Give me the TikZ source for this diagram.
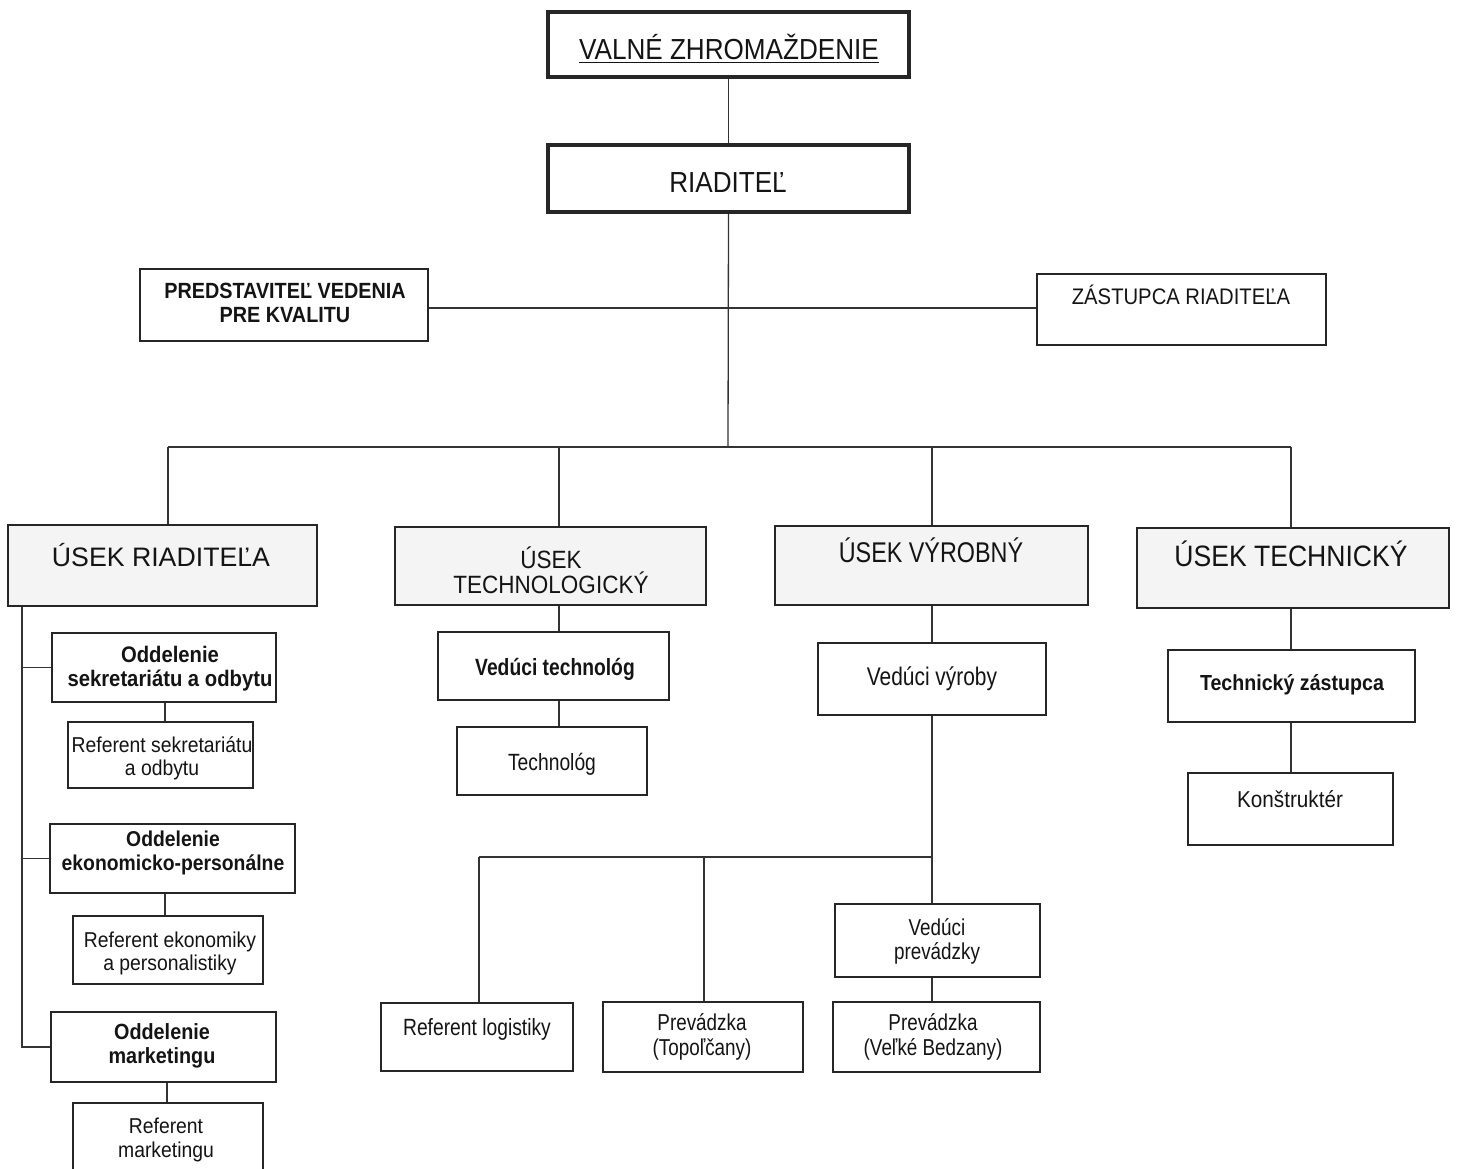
\documentclass[tikz,border=0pt]{standalone}
\usepackage{fontspec}
\setmainfont{Liberation Sans}
\newfontfamily\fN{Liberation Sans}
\newfontfamily\fM[FakeStretch=0.9]{Liberation Sans}
\newfontfamily\fC[FakeStretch=0.82]{Liberation Sans}
\usetikzlibrary{fit}
\newcommand{\myfs}[2]{\fontsize{#1}{#2}\selectfont}
\newcommand{\myul}[1]{{\setbox0\hbox{#1}\rlap{\rule[-3.5pt]{\wd0}{1.8pt}}\box0}}
\tikzset{
  box/.style={draw=black!85, line width=1.7pt, fill=white, inner sep=0pt},
  heavy/.style={box, line width=3.6pt},
  sect/.style={box, fill=gray!9, line width=1.9pt},
  conn/.style={draw=black!80, line width=1.3pt},
  txt/.style={inner sep=0pt, text=black!92, align=center}
}
\begin{document}
\begin{tikzpicture}[x=1pt, y=-1pt]
\useasboundingbox (0,0) rectangle (1457,1169);
\fill[white] (0,0) rectangle (1457,1169);
\clip (0,0) rectangle (1457,1169);

% boxes
\node[heavy, fit={(548,12) (909,77)}] (vz) {};
\node[heavy, fit={(548,145) (909,212)}] (ria) {};
\node[box, fit={(140,269) (428,341)}] (pvk) {};
\node[box, fit={(1037,274) (1326,345)}] (zr) {};
\node[sect, fit={(8,525) (317,606)}] (usr) {};
\node[sect, fit={(395,527) (706,605)}] (ut) {};
\node[sect, fit={(775,526) (1088,605)}] (uv) {};
\node[sect, fit={(1137,528) (1449,608)}] (uk) {};
\node[box, fit={(52,633) (276,702)}] (os) {};
\node[box, fit={(68,722) (253,788)}] (rs) {};
\node[box, fit={(50,824) (295,893)}] (oe) {};
\node[box, fit={(73,916) (263,984)}] (re) {};
\node[box, fit={(51,1012) (276,1082)}] (om) {};
\node[box, fit={(73,1103) (263,1190)}] (rm) {};
\node[box, fit={(438,632) (669,700)}] (vt) {};
\node[box, fit={(457,727) (647,795)}] (tg) {};
\node[box, fit={(818,643) (1046,715)}] (vv) {};
\node[box, fit={(835,904) (1040,977)}] (vp) {};
\node[box, fit={(381,1003) (573,1071)}] (rl) {};
\node[box, fit={(603,1002) (803,1072)}] (pt) {};
\node[box, fit={(833,1002) (1040,1072)}] (pb) {};
\node[box, fit={(1168,650) (1415,722)}] (tz) {};
\node[box, fit={(1188,773) (1393,845)}] (ko) {};

% connector coordinates
\coordinate (hub) at (728,447);
\coordinate (hl) at (728,308);
\coordinate (b1) at (168,447);
\coordinate (b2) at (559,447);
\coordinate (b3) at (932,447);
\coordinate (b4) at (1291,447);
\coordinate (bus2) at (932,857);
\coordinate (c1) at (479,857);
\coordinate (c2) at (704,857);
\coordinate (lv) at (22,606);
\coordinate (l1) at (165,700);

% connectors
\draw[conn] (vz.south) -- (ria.north);
\draw[conn] (ria.south) -- (hub);
\draw[conn] (pvk.east |- hl) -- (zr.west |- hl);
\draw[conn] (b1) -- (b4);
\draw[conn] (b1) -- (b1 |- usr.north);
\draw[conn] (b2) -- (b2 |- ut.north);
\draw[conn] (b3) -- (b3 |- uv.north);
\draw[conn] (b4) -- (b4 |- uk.north);
% usek riaditela
\draw[conn] (lv |- usr.south) -- (lv |- om.west) -- (om.west);
\draw[conn] (lv |- os.west) -- (os.west);
\draw[conn] (lv |- oe.west) -- (oe.west);
\draw[conn] (l1 |- os.south) -- (l1 |- rs.north);
\draw[conn] (l1 |- oe.south) -- (l1 |- re.north);
\draw[conn] (rm.north -| 167,0) -- (om.south -| 167,0);
% technologicky
\draw[conn] (b2 |- ut.south) -- (b2 |- vt.north);
\draw[conn] (b2 |- vt.south) -- (b2 |- tg.north);
% vyrobny
\draw[conn] (b3 |- uv.south) -- (b3 |- vv.north);
\draw[conn] (b3 |- vv.south) -- (bus2);
\draw[conn] (c1) -- (bus2);
\draw[conn] (c1) -- (c1 |- rl.north);
\draw[conn] (c2) -- (c2 |- pt.north);
\draw[conn] (bus2) -- (bus2 |- vp.north);
\draw[conn] (bus2 |- vp.south) -- (bus2 |- pb.north);
% technicky
\draw[conn] (b4 |- uk.south) -- (b4 |- tz.north);
\draw[conn] (b4 |- tz.south) -- (b4 |- ko.north);

% texts
\node[txt, anchor=base, font=\fM\myfs{29}{31}] (vzT) at (729,60) {\myul{VALNÉ ZHROMAŽDENIE}};
\node[txt, anchor=base, font=\fM\myfs{29}{31}] (riaT) at (728,193) {RIADITEĽ};
\node[txt, font=\fM\bfseries\myfs{22}{24}] (pvkT) at (285,303) {PREDSTAVITEĽ VEDENIA\\PRE KVALITU};
\node[txt, anchor=base, font=\fM\myfs{22.5}{24}] (zrT) at (1181,305) {ZÁSTUPCA RIADITEĽA};
\node[txt, anchor=base, font=\fN\myfs{26.7}{28}] (usrT) at (161,566) {ÚSEK RIADITEĽA};
\node[txt, font=\fM\myfs{25}{25}] (utT) at (551,570) {ÚSEK\\TECHNOLOGICKÝ};
\node[txt, anchor=base, font=\fC\myfs{28.5}{30}] (uvT) at (931,562) {ÚSEK VÝROBNÝ};
\node[txt, anchor=base, font=\fM\myfs{29.5}{31}] (ukT) at (1291,566) {ÚSEK TECHNICKÝ};
\node[txt, font=\fM\bfseries\myfs{22.5}{24}] (osT) at (170,669) {Oddelenie\\sekretariátu a odbytu};
\node[txt, font=\fM\myfs{21.5}{23}] (rsT) at (162,758) {Referent sekretariátu\\a odbytu};
\node[txt, font=\fM\bfseries\myfs{21.5}{23.5}] (oeT) at (173,853) {Oddelenie\\ekonomicko-personálne};
\node[txt, font=\fM\myfs{21.5}{23}] (reT) at (170,953) {Referent ekonomiky\\a personalistiky};
\node[txt, font=\fM\bfseries\myfs{22}{24}] (omT) at (162,1046) {Oddelenie\\marketingu};
\node[txt, font=\fM\myfs{21.5}{24}] (rmT) at (166,1140) {Referent\\marketingu};
\node[txt, anchor=base, font=\fC\bfseries\myfs{23.5}{25}] (vtT) at (555,675) {Vedúci technológ};
\node[txt, anchor=base, font=\fC\myfs{23.5}{25}] (tgT) at (552,770) {Technológ};
\node[txt, anchor=base, font=\fC\myfs{25.5}{27}] (vvT) at (932,685) {Vedúci výroby};
\node[txt, font=\fC\myfs{23}{24}] (vpT) at (937,941) {Vedúci\\prevádzky};
\node[txt, anchor=base, font=\fC\myfs{23.5}{25}] (rlT) at (477,1035) {Referent logistiky};
\node[txt, font=\fC\myfs{23}{24.5}] (ptT) at (702,1037) {Prevádzka\\(Topoľčany)};
\node[txt, font=\fC\myfs{23}{24.5}] (pbT) at (933,1037) {Prevádzka\\(Veľké Bedzany)};
\node[txt, anchor=base, font=\fM\bfseries\myfs{21.8}{24}] (tzT) at (1292,690) {Technický zástupca};
\node[txt, anchor=base, font=\fM\myfs{23}{25}] (koT) at (1290,807) {Konštruktér};
\end{tikzpicture}
\end{document}
